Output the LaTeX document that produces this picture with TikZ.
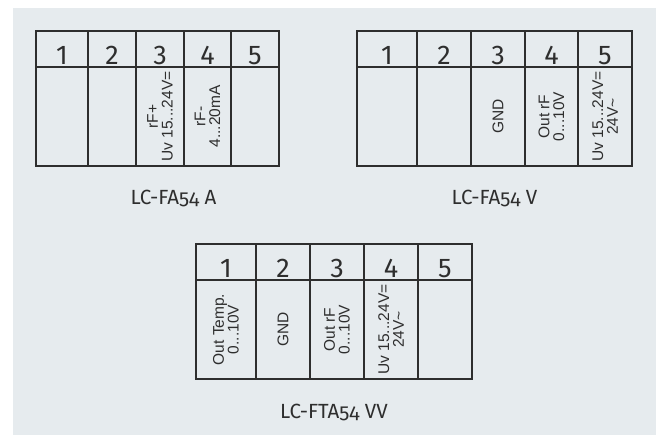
\documentclass[tikz,border=0pt]{standalone}
\usepackage{fontspec}
\setmainfont{Liberation Sans}
\newfontfamily\cellfont{Liberation Sans}
\newfontfamily\hdrfont{Fira Sans}
\newfontfamily\capfont[Numbers=OldStyle]{Fira Sans}
\definecolor{bg}{HTML}{E6EBEE}
\definecolor{ln}{HTML}{2E2E2E}
\tikzset{
  gridline/.style={draw=ln, line width=1.1pt},
  hdr/.style={anchor=base, inner sep=0pt, text=ln, font=\hdrfont\fontsize{27}{27}\selectfont},
  celltxt/.style={rotate=90, align=center, inner sep=0pt, text=ln, font=\cellfont\fontsize{15.5}{14.8}\selectfont},
  caption/.style={anchor=base, inner sep=0pt, text=ln, font=\capfont\fontsize{20.5}{20.5}\selectfont}
}
\begin{document}
\begin{tikzpicture}[x=1pt,y=-1pt]
\useasboundingbox (0,0) rectangle (658,435);
\fill[bg] (13,8) rectangle (656,435);

% ---- table A
\draw[gridline] (36,31) rectangle (279,166);
\draw[gridline] (36,67) -- (279,67);
\foreach \x in {88,136,184,231} \draw[gridline] (\x,31) -- (\x,166);
\foreach \i/\a/\b in {1/36/88,2/88/136,3/136/184,4/184/231,5/231/279}
  \node[hdr] (A\i) at ({(\a+\b)/2},65) {\i};
\node[celltxt] (A3t) at (160,116.5) {rF+\\Uv 15...24V=};
\node[celltxt] (A4t) at (207.5,116.5) {rF-\\4...20mA};
\node[caption] (capA) at (173.5,205) {LC-FA54 A};

% ---- table V
\draw[gridline] (357,31) rectangle (632,166);
\draw[gridline] (357,67) -- (632,67);
\foreach \x in {417,471,525,578} \draw[gridline] (\x,31) -- (\x,166);
\foreach \i/\a/\b in {1/357/417,2/417/471,3/471/525,4/525/578,5/578/632}
  \node[hdr] (V\i) at ({(\a+\b)/2},65) {\i};
\node[celltxt] (V3t) at (498,116.5) {GND};
\node[celltxt] (V4t) at (551.5,116.5) {Out rF\\0...10V};
\node[celltxt] (V5t) at (605,116.5) {Uv 15...24V=\\24V\textasciitilde};
\node[caption] (capV) at (494.5,205) {LC-FA54 V};

% ---- table VV
\draw[gridline] (196,244) rectangle (472,379);
\draw[gridline] (196,280) -- (472,280);
\foreach \x in {256,310,364,418} \draw[gridline] (\x,244) -- (\x,379);
\foreach \i/\a/\b in {1/196/256,2/256/310,3/310/364,4/364/418,5/418/472}
  \node[hdr] (W\i) at ({(\a+\b)/2},278) {\i};
\node[celltxt] (W1t) at (226,329.5) {Out Temp.\\0...10V};
\node[celltxt] (W2t) at (283,329.5) {GND};
\node[celltxt] (W3t) at (337,329.5) {Out rF\\0...10V};
\node[celltxt] (W4t) at (391,329.5) {Uv 15...24V=\\24V\textasciitilde};
\node[caption] (capW) at (334,418) {LC-FTA54 VV};
\end{tikzpicture}
\end{document}
